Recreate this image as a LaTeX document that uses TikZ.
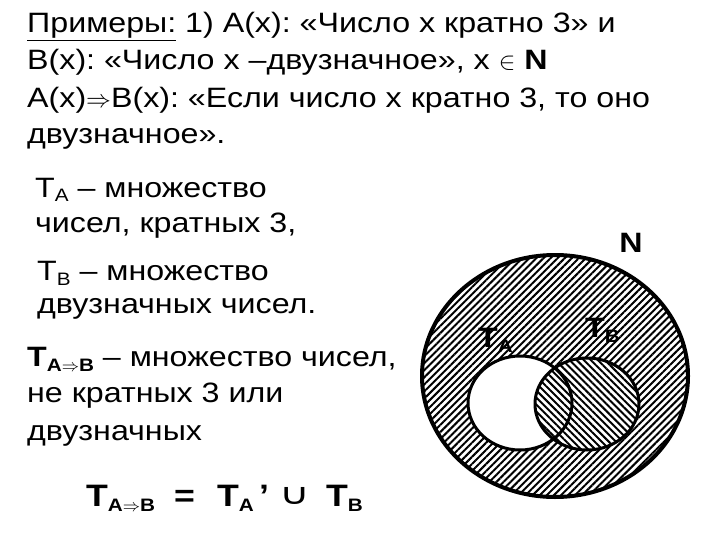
\documentclass[tikz,border=0pt]{standalone}
\usepackage{graphicx}
\usepackage{fontspec}
\setmainfont[FakeStretch=1.15]{Liberation Sans}
\newfontfamily\symfont{DejaVu Sans}
\usetikzlibrary{patterns.meta}
\newcommand{\mysub}[1]{\raisebox{-5pt}{\fontsize{18}{18}\selectfont #1}}
\frenchspacing
\begin{document}
\begin{tikzpicture}[x=1pt,y=-1pt,
  txt/.style={anchor=base west, inner sep=0pt, font=\fontsize{28}{28}\selectfont},
  lbl/.style={inner sep=0pt, font=\bfseries\fontsize{28}{28}\selectfont},
  frm/.style={anchor=base west, inner sep=0pt, font=\bfseries\fontsize{31}{31}\selectfont},
  hatchA/.style={pattern={Lines[angle=45,distance=5pt,line width=2pt]}},
  hatchB/.style={pattern={Lines[angle=-45,distance=5pt,line width=2pt]}},
  outline/.style={draw=black, line width=3pt}]
\useasboundingbox (0,0) rectangle (720,540);
\fill[white] (0,0) rectangle (720,540);

% text
\node[txt] (l1) at (27,33) {\underline{Примеры:} 1) А(x): «Число x кратно 3» и};
\node[txt] (l2) at (27,70) {В(x): «Число x –двузначное», x $\in$ \textbf{N}};
\node[txt] (l3) at (27,108) {А(x)$\Rightarrow$В(x): «Если число x кратно 3, то оно};
\node[txt] (l4) at (27,144) {двузначное».};
\node[txt] (l5) at (35,197) {Т\mysub{A} – множество};
\node[txt] (l6) at (35,233) {чисел, кратных 3,};
\node[txt] (l7) at (37,280) {Т\mysub{B} – множество};
\node[txt] (l8) at (37,313) {двузначных чисел.};
\node[txt] (l9) at (27,366) {\textbf{Т\mysub{A$\Rightarrow$B}} – множество чисел,};
\node[txt] (l10) at (27,402) {не кратных 3 или};
\node[txt] (l11) at (27,440) {двузначных};

% formula
\node[frm] (f1) at (86,506) {Т\mysub{A$\Rightarrow$B}};
\node[frm] (f2) at (174,506) {=};
\node[frm] (f3) at (217,506) {Т\mysub{A}\,'};
\node[frm, font=\symfont\fontsize{28}{28}\selectfont] (f4) at (279,504) {\scalebox{1.5}[1.05]{∪}};
\node[frm] (f5) at (326,506) {Т\mysub{B}};

% Venn diagram
\fill[hatchA] (555,376) ellipse [x radius=133, y radius=121];
\fill[white] (520,403) ellipse [x radius=52, y radius=47];
\fill[white] (587,404) ellipse [x radius=52, y radius=46];
\fill[hatchB] (587,404) ellipse [x radius=52, y radius=46];
\draw[outline, line width=4pt] (555,376) ellipse [x radius=133, y radius=121];
\draw[outline] (520,403) ellipse [x radius=52, y radius=47];
\draw[outline] (587,404) ellipse [x radius=52, y radius=46];

\node[lbl] (N) at (631,243) {N};
\node[lbl, anchor=base west] (TA) at (478,347) {Т\mysub{A}};
\node[lbl, anchor=base west] (TB) at (585,337) {Т\mysub{B}};
\end{tikzpicture}
\end{document}
